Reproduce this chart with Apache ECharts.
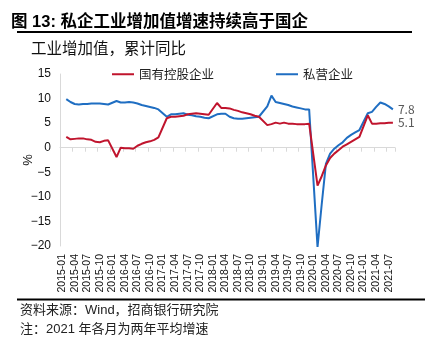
<!DOCTYPE html>
<html>
<head>
<meta charset="utf-8">
<script src="https://cdn.jsdelivr.net/npm/echarts@6/dist/echarts.min.js"></script>
<style>
html, body { margin: 0; padding: 0; background: #fff; }
#chart { width: 433px; height: 338px; }
</style>
</head>
<body>
<div id="chart"></div>
<script>
// Monthly categories 2015-01 .. 2021-08 (cumulative data; January is merged into Jan-Feb, so Jan is empty)
const firstYear = 2015;
const lastYear = 2021;
const lastMonthOfLastYear = 8;
const months = [];
for (let y = firstYear; y <= lastYear; y++) {
  const mMax = y === lastYear ? lastMonthOfLastYear : 12;
  for (let m = 1; m <= mMax; m++) months.push(y + '-' + String(m).padStart(2, '0'));
}

// 国有控股企业, cumulative YoY (%), Jan..Dec
const soe2015 = [null, 2.2, 1.7, 1.8, 1.9, 1.9, 1.7, 1.6, 1.2, 1.1, 1.4, 1.5];
const soe2016 = [null, -1.9, 0.0, -0.1, -0.1, -0.2, 0.4, 0.8, 1.1, 1.3, 1.6, 2.1];
const soe2017 = [null, 6.0, 6.3, 6.3, 6.4, 6.5, 6.8, 6.9, 7.0, 6.9, 6.8, 6.7];
const soe2018 = [null, 9.1, 8.1, 8.1, 8.0, 7.7, 7.5, 7.2, 7.0, 6.8, 6.5, 6.3];
const soe2019 = [null, 4.6, 4.8, 5.1, 4.9, 5.1, 4.9, 4.9, 4.8, 4.8, 4.8, 4.9];
const soe2020 = [null, -7.7, -5.8, -3.6, -2.1, -1.2, -0.5, 0.2, 0.7, 1.2, 1.7, 2.2];
const soe2021 = [null, 6.6, 4.9, 4.9, 5.0, 5.0, 5.1, 5.1];

// 私营企业, cumulative YoY (%), Jan..Dec
const pvt2015 = [null, 9.9, 9.3, 8.9, 8.8, 8.9, 8.9, 9.0, 9.0, 9.0, 8.9, 8.8];
const pvt2016 = [null, 9.5, 9.2, 9.2, 9.3, 9.2, 9.0, 8.7, 8.5, 8.3, 8.1, 7.8];
const pvt2017 = [null, 6.3, 6.8, 6.8, 6.9, 7.0, 6.7, 6.6, 6.4, 6.3, 6.1, 6.0];
const pvt2018 = [null, 6.8, 6.9, 6.9, 6.3, 6.0, 5.9, 5.9, 6.0, 6.1, 6.2, 6.3];
const pvt2019 = [null, 8.4, 10.6, 9.3, 9.1, 8.9, 8.7, 8.4, 8.2, 8.0, 7.8, 7.8];
const pvt2020 = [null, -20.2, -11.5, -3.3, -1.2, -0.2, 0.5, 1.1, 2.0, 2.6, 3.1, 3.6];
const pvt2021 = [null, 7.0, 7.3, 8.3, 9.2, 8.9, 8.4, 7.8];

const soeValues = [].concat(soe2015, soe2016, soe2017, soe2018, soe2019, soe2020, soe2021);
const pvtValues = [].concat(pvt2015, pvt2016, pvt2017, pvt2018, pvt2019, pvt2020, pvt2021);

const seriesNames = ['国有控股企业', '私营企业'];
const labelledMonths = ['01', '04', '07', '10'];

const yMin = -20, yMax = 15, yStep = 5;

const RED = '#C0142D';
const BLUE = '#1F6EC2';
const AXIS_GREY = '#D9D9D9';
const CJK = '"Noto Sans CJK SC", sans-serif';
const LATIN = '"Liberation Sans", "Noto Sans CJK SC", sans-serif';

const chart = echarts.init(document.getElementById('chart'), null, { renderer: 'canvas' });

const showLabel = (idx, val) => labelledMonths.indexOf(val.slice(5)) >= 0;

chart.setOption({
  animation: false,
  backgroundColor: '#fff',
  title: [
    {
      text: '图 13: 私企工业增加值增速持续高于国企',
      left: 6, top: 9,
      textStyle: { fontFamily: LATIN, fontSize: 16.5, fontWeight: 'bold', color: '#000' }
    },
    {
      text: '工业增加值，累计同比',
      left: 26, top: 35,
      textStyle: { fontFamily: CJK, fontSize: 15.5, fontWeight: 'normal', color: '#111' }
    }
  ],
  graphic: [
    { type: 'line', shape: { x1: 17, y1: 32, x2: 412, y2: 32 }, style: { stroke: '#000', lineWidth: 2 } },
    { type: 'line', shape: { x1: 17, y1: 299.5, x2: 425, y2: 299.5 }, style: { stroke: '#000', lineWidth: 2 } },
    { type: 'text', left: 20, top: 304,
      style: { text: '资料来源：Wind，招商银行研究院', font: '13px ' + LATIN, fill: '#222' } },
    { type: 'text', left: 20, top: 323,
      style: { text: '注：2021 年各月为两年平均增速', font: '13px ' + LATIN, fill: '#222' } }
  ],
  legend: {
    data: seriesNames,
    left: 107, top: 63,
    icon: 'rect',
    itemWidth: 22, itemHeight: 2,
    itemGap: 62,
    textStyle: { fontFamily: CJK, fontSize: 12.5, color: '#222', padding: [0, 0, 0, 0] }
  },
  grid: { left: 60, right: 38, top: 74, bottom: 92, containLabel: false },
  xAxis: [
    {
      type: 'category',
      data: months,
      boundaryGap: true,
      axisLine: { onZero: true, lineStyle: { color: AXIS_GREY, width: 1 } },
      axisTick: { show: true, interval: (idx, val) => showLabel(idx, val), length: 4, lineStyle: { color: AXIS_GREY } },
      axisLabel: { show: false },
      splitLine: { show: false }
    },
    {
      type: 'category',
      data: months,
      boundaryGap: true,
      position: 'bottom',
      axisLine: { show: false, onZero: false },
      axisTick: { show: false },
      axisLabel: {
        show: true,
        interval: showLabel,
        rotate: 90,
        margin: 8,
        fontFamily: LATIN,
        fontSize: 10.5,
        color: '#111'
      },
      splitLine: { show: false }
    }
  ],
  yAxis: {
    type: 'value',
    min: yMin, max: yMax, interval: yStep,
    name: '%',
    nameLocation: 'middle',
    nameGap: 25,
    nameMoveOverlap: false,
    nameTextStyle: { fontFamily: LATIN, fontSize: 13, color: '#111' },
    axisLine: { show: true, lineStyle: { color: AXIS_GREY } },
    axisTick: { show: false },
    splitLine: { show: false },
    axisLabel: {
      fontFamily: LATIN, fontSize: 12, color: '#111', margin: 9,
      formatter: v => String(v).replace('-', '\u2212')
    }
  },
  series: [
    {
      name: seriesNames[0],
      type: 'line',
      xAxisIndex: 0,
      data: soeValues,
      connectNulls: true,
      symbol: 'none',
      lineStyle: { color: RED, width: 2 },
      itemStyle: { color: RED },
      endLabel: { show: true, formatter: p => p.value, color: '#595959', fontFamily: CJK, fontSize: 12, distance: 5 },
      z: 3
    },
    {
      name: seriesNames[1],
      type: 'line',
      xAxisIndex: 0,
      data: pvtValues,
      connectNulls: true,
      symbol: 'none',
      lineStyle: { color: BLUE, width: 2 },
      itemStyle: { color: BLUE },
      endLabel: { show: true, formatter: p => p.value, color: '#595959', fontFamily: CJK, fontSize: 12, distance: 5 },
      z: 2
    }
  ]
});
</script>
</body>
</html>
